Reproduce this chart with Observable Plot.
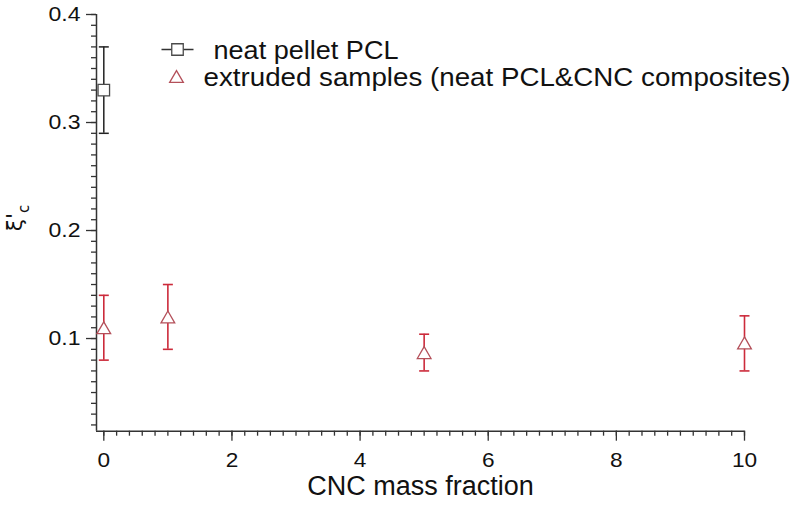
<!DOCTYPE html>
<html><head><meta charset="utf-8">
<script src="https://cdn.jsdelivr.net/npm/d3@7"></script>
<script src="https://cdn.jsdelivr.net/npm/@observablehq/plot@0.6"></script>
<style>body{margin:0;background:#fff} svg{font-family:"Liberation Sans",Arial,sans-serif}</style>
</head><body><div id="chart"></div>
<script>
// ---- data ----
const pelletX = [0];
const pelletY = [0.33];
const pelletLo = [0.29];
const pelletHi = [0.37];
const extrudedX = [0, 1, 5, 10];
const extrudedY = [0.11, 0.12, 0.087, 0.096];
const extrudedLo = [0.08, 0.09, 0.070, 0.070];
const extrudedHi = [0.14, 0.15, 0.104, 0.121];
const xMajorTicks = [0, 2, 4, 6, 8, 10];
const yMajorTicks = [0.1, 0.2, 0.3, 0.4];
const legendLabels = ["neat pellet PCL", "extruded samples (neat PCL&CNC composites)"];
const xTitle = "CNC mass fraction";
const xDomain = [-0.114, 10];
const yDomain = [0.0142, 0.4];

const pel = pelletX.map((x, i) => ({x, y: pelletY[i], lo: pelletLo[i], hi: pelletHi[i]}));
const ext = extrudedX.map((x, i) => ({x, y: extrudedY[i], lo: extrudedLo[i], hi: extrudedHi[i]}));
const xMinor = d3.ticks(0, 10, 50);
const yMinor = d3.ticks(0.02, 0.4, 38);

const capSymbol = {draw(ctx, size) { const w = Math.sqrt(size); ctx.moveTo(-w / 2, 0); ctx.lineTo(w / 2, 0); }};
const RED = "#cc2b3b", TRI = "#b4505a", AX = "#333";

const chart = Plot.plot({
  width: 800, height: 508,
  marginLeft: 96, marginRight: 56, marginTop: 14, marginBottom: 77.3,
  x: {domain: xDomain, label: null},
  y: {domain: yDomain, label: null},
  style: {fontFamily: '"Liberation Sans", Arial, sans-serif', background: "white", color: "#111"},
  marks: [
    Plot.axisY(yMinor, {tickSize: 5, tickFormat: () => "", label: null, stroke: AX, strokeWidth: 1.3}),
    Plot.axisX(xMinor, {tickSize: 5, tickFormat: () => "", label: null, stroke: AX, strokeWidth: 1.3}),
    Plot.axisY(yMajorTicks, {tickSize: 10, tickPadding: 6, fontSize: 20, tickFormat: d => d.toFixed(1), label: null, stroke: AX, strokeWidth: 1.3}),
    Plot.axisX(xMajorTicks, {tickSize: 10, tickPadding: 11, fontSize: 21, tickFormat: d => String(d), label: null, stroke: AX, strokeWidth: 1.3}),
    Plot.ruleX([xDomain[0]], {stroke: AX, strokeWidth: 1.5}),
    Plot.ruleY([yDomain[0]], {stroke: AX, strokeWidth: 1.5}),
    // pellet series
    Plot.ruleX(pel, {x: "x", y1: "lo", y2: "hi", stroke: "#222", strokeWidth: 1.5}),
    Plot.dot(pel, {x: "x", y: "lo", symbol: capSymbol, r: 5.64, stroke: "#222", fill: "none", strokeWidth: 1.5}),
    Plot.dot(pel, {x: "x", y: "hi", symbol: capSymbol, r: 5.64, stroke: "#222", fill: "none", strokeWidth: 1.5}),
    Plot.dot(pel, {x: "x", y: "y", symbol: "square", r: 6.49, stroke: "#4a4a4a", fill: "white", strokeWidth: 1.3}),
    // extruded series
    Plot.ruleX(ext, {x: "x", y1: "lo", y2: "hi", stroke: RED, strokeWidth: 1.6}),
    Plot.dot(ext, {x: "x", y: "lo", symbol: capSymbol, r: 5.64, stroke: RED, fill: "none", strokeWidth: 1.6}),
    Plot.dot(ext, {x: "x", y: "hi", symbol: capSymbol, r: 5.64, stroke: RED, fill: "none", strokeWidth: 1.6}),
    Plot.dot(ext, {x: "x", y: "y", symbol: "triangle", r: 5.09, dy: 2, stroke: TRI, fill: "white", strokeWidth: 1.3}),
    // legend
    Plot.dot([legendLabels[0]], {frameAnchor: "top-left", dx: 81, dy: 35, symbol: capSymbol, r: 18.06, stroke: "#333", fill: "none", strokeWidth: 1.3}),
    Plot.dot([legendLabels[0]], {frameAnchor: "top-left", dx: 81, dy: 35, symbol: "square", r: 6.49, stroke: "#4a4a4a", fill: "white", strokeWidth: 1.3}),
    Plot.dot([legendLabels[1]], {frameAnchor: "top-left", dx: 80, dy: 64, symbol: "triangle", r: 5.09, stroke: TRI, fill: "white", strokeWidth: 1.3}),
    Plot.text([legendLabels[0]], {frameAnchor: "top-left", dx: 117, dy: 36, text: d => d, textAnchor: "start", lineAnchor: "middle", fontSize: 25, fill: "#111"}),
    Plot.text([legendLabels[1]], {frameAnchor: "top-left", dx: 107, dy: 63, text: d => d, textAnchor: "start", lineAnchor: "middle", fontSize: 25, fill: "#111"}),
    // x title
    Plot.text([xTitle], {frameAnchor: "bottom", dy: 64, text: d => d, fontSize: 27, fill: "#111"})
  ]
});
document.getElementById("chart").appendChild(chart);

const svg = d3.select(chart);
// force tick-label sizes
svg.selectAll('g[aria-label="y-axis tick label"]').attr("font-size", 20).selectAll("text").attr("font-size", 20).attr("fill", "#111");
svg.selectAll('g[aria-label="x-axis tick label"]').attr("font-size", 21).selectAll("text").attr("font-size", 21).attr("fill", "#111");

// widen glyphs like the reference rendering
function stretch(sel, factor) {
  sel.each(function () {
    if (!this.textContent) return;
    const L = this.getComputedTextLength();
    this.setAttribute("textLength", (L * factor).toFixed(1));
    this.setAttribute("lengthAdjust", "spacingAndGlyphs");
  });
}
stretch(svg.selectAll('g[aria-label="y-axis tick label"] text'), 1.15);
stretch(svg.selectAll('g[aria-label="x-axis tick label"] text'), 1.08);
const legendWidths = [185, 587];
svg.selectAll("text").each(function () {
  const i = legendLabels.indexOf(this.textContent);
  if (i >= 0) { this.setAttribute("textLength", legendWidths[i]); this.setAttribute("lengthAdjust", "spacingAndGlyphs"); }
});

// y-axis label: ξ'c (c subscript)
const yl = svg.append("text")
  .attr("transform", "translate(22,218) rotate(-90)")
  .attr("text-anchor", "middle")
  .attr("fill", "#111")
  .style("font-family", '"DejaVu Sans", "Liberation Sans", sans-serif');
yl.append("tspan").attr("font-size", 22).text("ξ'");
yl.append("tspan").attr("font-size", 15).attr("dy", "0.45em").text("c");
</script>
</body></html>
